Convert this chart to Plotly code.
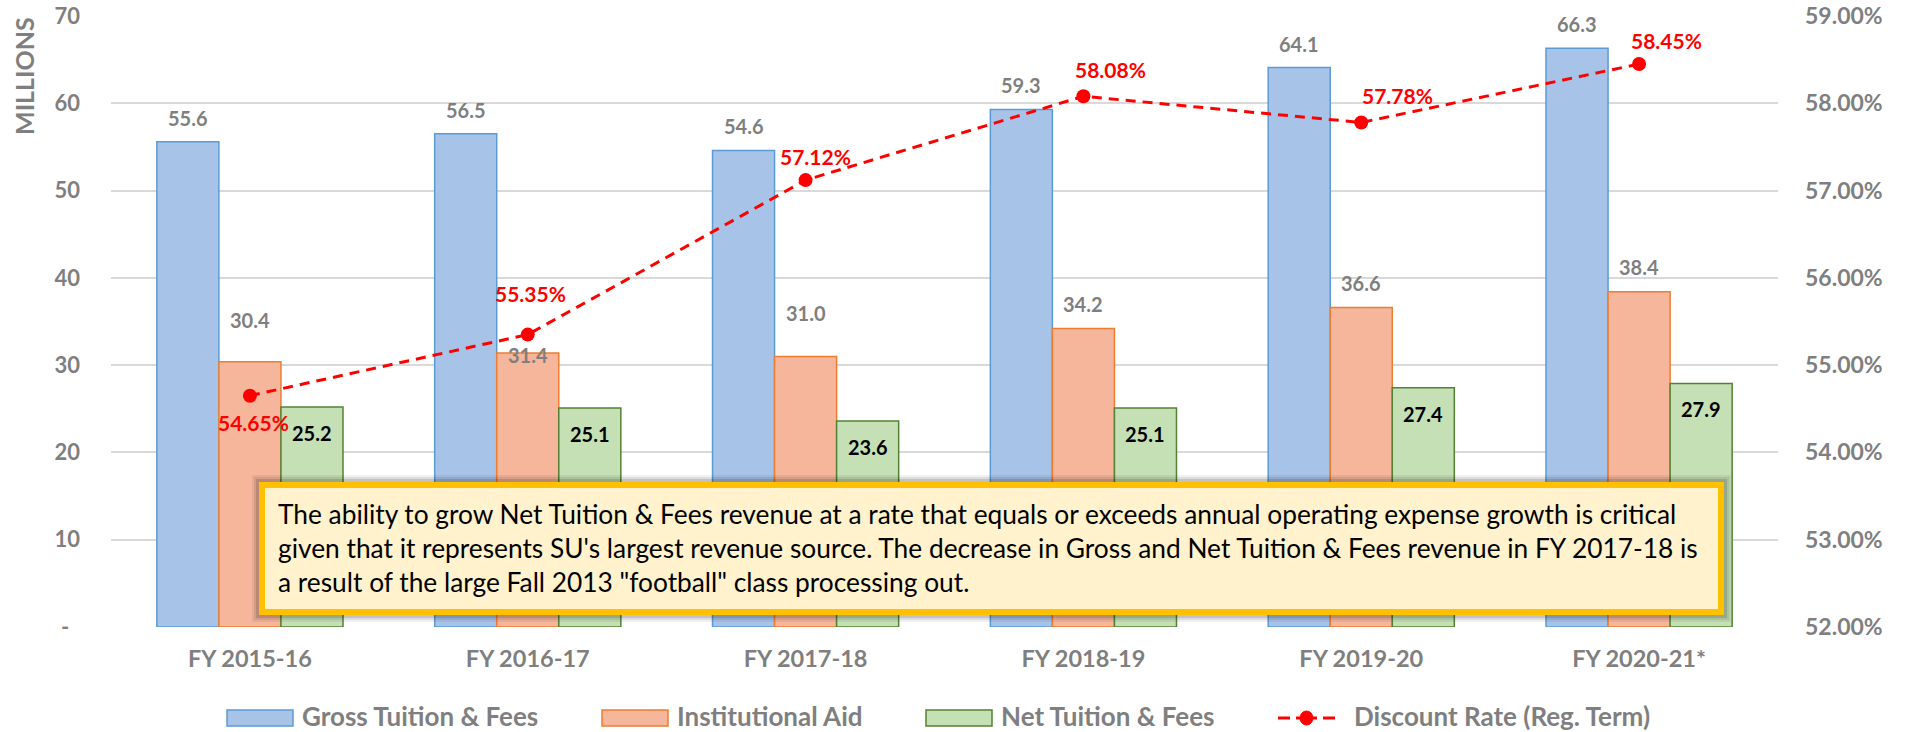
import plotly.graph_objects as go

# ---------------- data ----------------
categories = ["FY 2015-16", "FY 2016-17", "FY 2017-18", "FY 2018-19", "FY 2019-20", "FY 2020-21*"]
gross_tuition = [55.6, 56.5, 54.6, 59.3, 64.1, 66.3]
institutional_aid = [30.4, 31.4, 31.0, 34.2, 36.6, 38.4]
net_tuition = [25.2, 25.1, 23.6, 25.1, 27.4, 27.9]
discount_rate = [0.5465, 0.5535, 0.5712, 0.5808, 0.5778, 0.5845]

left_tickvals = [0, 10, 20, 30, 40, 50, 60, 70]
left_ticktext = ["-\u00a0\u00a0", "10", "20", "30", "40", "50", "60", "70"]
right_tickvals = [0.52, 0.53, 0.54, 0.55, 0.56, 0.57, 0.58, 0.59]

series_names = ["Gross Tuition & Fees", "Institutional Aid", "Net Tuition & Fees", "Discount Rate (Reg. Term)"]

note_lines = [
    "The ability to grow Net Tuition & Fees revenue at a rate that equals or exceeds annual operating expense growth is critical",
    "given that it represents SU's largest revenue source. The decrease in Gross and Net Tuition & Fees revenue in FY 2017-18 is",
    "a result of the large Fall 2013 \"football\" class processing out.",
]

# ---------------- styling / layout ----------------
W, H = 1908, 732
ML, MR, MT, MB = 111, 130, 16, 105
PW, PH = W - ML - MR, H - MT - MB
FONT = "Lato, Carlito, Calibri, sans-serif"
GRAY = "#7F7F7F"

# label pixel offsets (styling)
aid_label_shift = [42, -2, 43, 24, 25, 25]
disc_label_dx = [4, 3, 10, 27, 36, 27]
disc_label_dy = [-27, 41, 24, 27, 27, 24]


def px_x(px):
    return (px - ML) / PW


def px_y(py):
    return (MT + PH - py) / PH


fig = go.Figure()

fig.add_trace(go.Bar(
    x=categories, y=gross_tuition, name=series_names[0],
    marker=dict(color="#A7C4E8", line=dict(color="#5B9BD5", width=1.5)),
    showlegend=False, hoverinfo="skip"))
fig.add_trace(go.Bar(
    x=categories, y=institutional_aid, name=series_names[1],
    marker=dict(color="#F5B69B", line=dict(color="#ED7D31", width=1.5)),
    showlegend=False, hoverinfo="skip"))
fig.add_trace(go.Bar(
    x=categories, y=net_tuition, name=series_names[2],
    marker=dict(color="#C5E0B4", line=dict(color="#548235", width=1.5)),
    showlegend=False, hoverinfo="skip"))
fig.add_trace(go.Scatter(
    x=categories, y=discount_rate, name=series_names[3], yaxis="y2",
    mode="lines+markers",
    line=dict(color="#FF0000", width=3, dash="10px,7px"),
    marker=dict(color="#FF0000", size=14),
    showlegend=False, hoverinfo="skip"))

annotations = []
bar_w = 62
for i, c in enumerate(categories):
    annotations.append(dict(
        x=c, y=gross_tuition[i], xref="x", yref="y", xshift=-bar_w, yshift=24,
        text=f"{gross_tuition[i]:.1f}", showarrow=False, yanchor="middle",
        font=dict(family=FONT, size=20, color=GRAY, weight="bold")))
    annotations.append(dict(
        x=c, y=institutional_aid[i], xref="x", yref="y", xshift=0, yshift=aid_label_shift[i],
        text=f"{institutional_aid[i]:.1f}", showarrow=False, yanchor="middle",
        font=dict(family=FONT, size=20, color=GRAY, weight="bold")))
    annotations.append(dict(
        x=c, y=net_tuition[i], xref="x", yref="y", xshift=bar_w, yshift=-26,
        text=f"{net_tuition[i]:.1f}", showarrow=False, yanchor="middle",
        font=dict(family=FONT, size=20, color="#000000", weight="bold")))
    annotations.append(dict(
        x=c, y=discount_rate[i], xref="x", yref="y2", xshift=disc_label_dx[i], yshift=disc_label_dy[i],
        text=f"{discount_rate[i] * 100:.2f}%", showarrow=False, yanchor="middle",
        font=dict(family=FONT, size=21, color="#FF0000", weight="bold")))

# axis title
annotations.append(dict(
    x=px_x(24), y=px_y(76), xref="paper", yref="paper", text="MILLIONS", textangle=-90,
    showarrow=False, xanchor="center", yanchor="middle",
    font=dict(family=FONT, size=25, color=GRAY, weight="bold")))

# note box text
annotations.append(dict(
    x=px_x(276), y=px_y(548), xref="paper", yref="paper", text="<br>".join(note_lines),
    showarrow=False, xanchor="left", yanchor="middle", align="left",
    font=dict(family=FONT, size=26.3, color="#000000")))

shapes = []
# shadow
for k, op in [(7, 0.06), (5, 0.08), (3, 0.12)]:
    shapes.append(dict(type="rect", xref="paper", yref="paper", layer="above",
                       x0=px_x(259 - k), x1=px_x(1724 + k), y0=px_y(615 + k), y1=px_y(482 - k),
                       fillcolor=f"rgba(0,0,0,{op})", line=dict(width=0)))
shapes.append(dict(type="rect", xref="paper", yref="paper", layer="above",
                   x0=px_x(262), x1=px_x(1721), y0=px_y(612), y1=px_y(485),
                   fillcolor="#FFF2CC", line=dict(color="#FFC000", width=6)))

# custom legend
leg_y = 718
txt_y = 716
swatches = [(227, 293, "#A7C4E8", "#5B9BD5"), (602, 668, "#F5B69B", "#ED7D31"), (926, 992, "#C5E0B4", "#548235")]
for (x0, x1, fc, lc), name in zip(swatches, series_names[:3]):
    shapes.append(dict(type="rect", xref="paper", yref="paper",
                       x0=px_x(x0), x1=px_x(x1), y0=px_y(leg_y + 8), y1=px_y(leg_y - 8),
                       fillcolor=fc, line=dict(color=lc, width=1.5)))
    annotations.append(dict(x=px_x(x1 + 7), y=px_y(txt_y), xref="paper", yref="paper", text=name,
                            showarrow=False, xanchor="left", yanchor="middle",
                            font=dict(family=FONT, size=26, color=GRAY, weight="bold")))
shapes.append(dict(type="line", xref="paper", yref="paper", x0=px_x(1278), x1=px_x(1290),
                   y0=px_y(leg_y), y1=px_y(leg_y), line=dict(color="#FF0000", width=3)))
shapes.append(dict(type="line", xref="paper", yref="paper", x0=px_x(1323), x1=px_x(1335),
                   y0=px_y(leg_y), y1=px_y(leg_y), line=dict(color="#FF0000", width=3)))
shapes.append(dict(type="line", xref="paper", yref="paper", x0=px_x(1296), x1=px_x(1317),
                   y0=px_y(leg_y), y1=px_y(leg_y), line=dict(color="#FF0000", width=3)))
shapes.append(dict(type="circle", xref="paper", yref="paper", x0=px_x(1300), x1=px_x(1313),
                   y0=px_y(leg_y + 7), y1=px_y(leg_y - 7), fillcolor="#FF0000", line=dict(color="#FF0000", width=1)))
annotations.append(dict(x=px_x(1352), y=px_y(txt_y), xref="paper", yref="paper", text=series_names[3],
                        showarrow=False, xanchor="left", yanchor="middle",
                        font=dict(family=FONT, size=26, color=GRAY, weight="bold")))

fig.update_layout(
    width=W, height=H, autosize=False,
    margin=dict(l=ML, r=MR, t=MT, b=MB, autoexpand=False),
    paper_bgcolor="white", plot_bgcolor="white",
    barmode="group", bargap=0.33, bargroupgap=0,
    showlegend=False,
    xaxis=dict(type="category", showgrid=False, showline=False, ticks="", zeroline=False,
               automargin=False,
               tickfont=dict(family=FONT, size=23.5, color=GRAY, weight="bold"),
               ticklabelstandoff=15),
    yaxis=dict(range=[0, 70], tickvals=left_tickvals, ticktext=left_ticktext, automargin=False,
               showgrid=True, gridcolor="#D9D9D9", gridwidth=1.5, zeroline=False, showline=False,
               tickfont=dict(family=FONT, size=22, color=GRAY, weight="bold"),
               ticklabelstandoff=30),
    yaxis2=dict(range=[0.52, 0.59], tickvals=right_tickvals, tickformat=".2%", overlaying="y",
                side="right", showgrid=False, zeroline=False, showline=False, automargin=False,
                tickfont=dict(family=FONT, size=23, color=GRAY, weight="bold"),
                ticklabelstandoff=26),
    annotations=annotations,
    shapes=shapes,
)

fig.write_html("out.html", config={"displayModeBar": False},
               post_script="document.body.style.margin='0px';document.body.style.overflow='hidden';")
